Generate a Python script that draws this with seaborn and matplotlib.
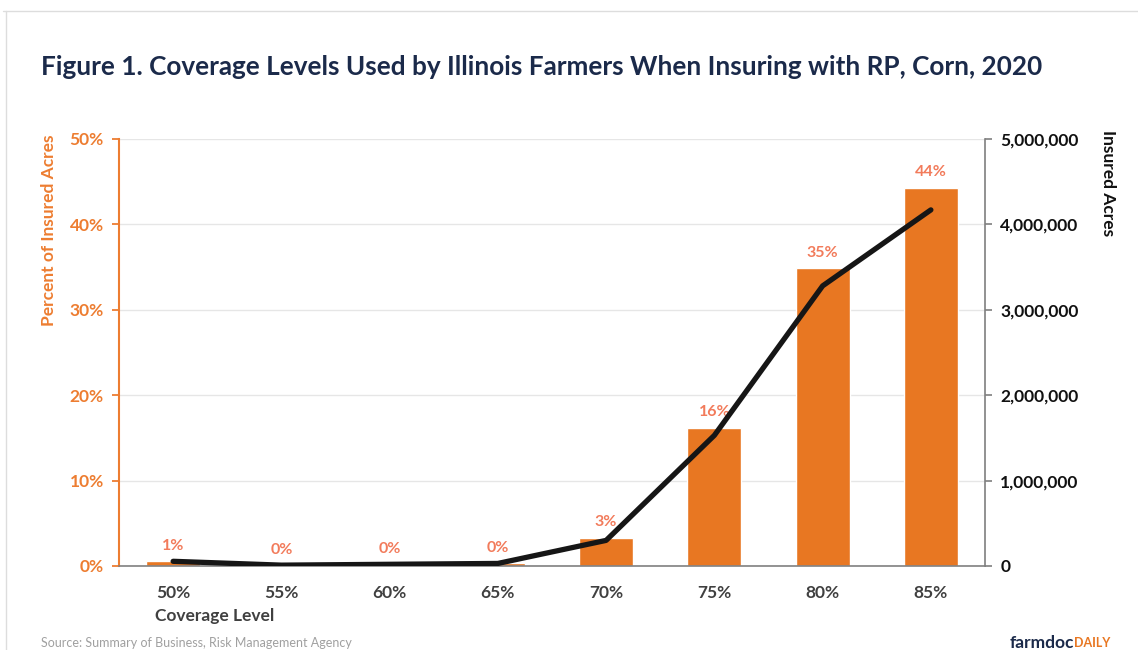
import matplotlib
matplotlib.use("Agg")
import matplotlib.pyplot as plt
import seaborn as sns
import numpy as np
import pandas as pd
from matplotlib.ticker import FuncFormatter, MultipleLocator
from matplotlib.lines import Line2D

# ---- data ----
coverage_levels = ["50%", "55%", "60%", "65%", "70%", "75%", "80%", "85%"]
percent_acres = [0.6, 0.05, 0.15, 0.3, 3.3, 16.2, 34.9, 44.3]
percent_labels = ["1%", "0%", "0%", "0%", "3%", "16%", "35%", "44%"]
insured_acres = [55000, 10000, 20000, 30000, 300000, 1530000, 3280000, 4170000]

title = "Figure 1. Coverage Levels Used by Illinois Farmers When Insuring with RP, Corn, 2020"
source = "Source: Summary of Business, Risk Management Agency"

BAR = "#E87722"
AXIS_ORANGE = "#ED7D31"
LABEL_SALMON = "#F27B5B"
NAVY = "#1B2A4A"
DARK = "#404040"

sns.set_theme(style="white")
plt.rcParams["font.family"] = ["Lato", "DejaVu Sans"]

df = pd.DataFrame({"level": coverage_levels, "pct": percent_acres, "acres": insured_acres})

fig = plt.figure(figsize=(11.38, 6.5), dpi=100)
ax = fig.add_axes([119/1138, 1-566/650, (985-119)/1138, (566-139)/650])

sns.barplot(data=df, x="level", y="pct", color=BAR, width=0.5, saturation=1, ax=ax)
ax.set_xlim(-0.5, len(coverage_levels)-0.5)
ax.set_ylim(0, 50)
ax.yaxis.set_major_locator(MultipleLocator(10))
ax.yaxis.set_major_formatter(FuncFormatter(lambda v, p: f"{int(v)}%"))
ax.grid(axis="y", color="#E6E6E6", linewidth=1)
ax.set_axisbelow(True)

ax.spines["top"].set_visible(False)
ax.spines["left"].set_color(AXIS_ORANGE)
ax.spines["left"].set_linewidth(1.5)
ax.spines["bottom"].set_color("#808080")
ax.spines["bottom"].set_linewidth(1.2)
ax.spines["right"].set_visible(False)

ax.tick_params(axis="y", colors=AXIS_ORANGE, length=5, width=1.3, direction="out", left=True, pad=6)
for t in ax.get_yticklabels():
    t.set_fontweight("bold"); t.set_fontsize(12.5); t.set_color(AXIS_ORANGE)
ax.tick_params(axis="x", length=0, pad=14)
for t in ax.get_xticklabels():
    t.set_fontweight("bold"); t.set_fontsize(12.5); t.set_color(DARK)

ax.set_xlabel("")
ax.set_ylabel("")
fig.text(49/1138, 1-230/650, "Percent of Insured Acres", rotation=90, ha="center", va="center",
         color=AXIS_ORANGE, fontsize=12.5, fontweight="bold")

# data labels
for i, (v, lab) in enumerate(zip(percent_acres, percent_labels)):
    ax.annotate(lab, (i, v), xytext=(0, 6), textcoords="offset points",
                ha="center", va="bottom", color=LABEL_SALMON, fontsize=11.5, fontweight="bold")

# second axis
ax2 = ax.twinx()
sns.lineplot(x=np.arange(len(coverage_levels)), y=insured_acres, color="#161616",
             linewidth=3.8, ax=ax2, solid_capstyle="round", solid_joinstyle="round")
ax2.set_ylim(0, 5000000)
ax2.yaxis.set_major_locator(MultipleLocator(1000000))
ax2.yaxis.set_major_formatter(FuncFormatter(lambda v, p: f"{int(v):,}"))
for sp in ["top", "left", "bottom"]:
    ax2.spines[sp].set_visible(False)
ax2.spines["right"].set_color("#7F7F7F")
ax2.spines["right"].set_linewidth(1.2)
ax2.tick_params(axis="y", colors="#7F7F7F", length=5, width=1.2, direction="out", right=True, pad=6)
for t in ax2.get_yticklabels():
    t.set_fontweight("bold"); t.set_fontsize(12.5); t.set_color("#111111")
ax2.set_ylabel("")
ax2.grid(False)

fig.text(1108/1138, 1-130/650, "Insured Acres", rotation=-90, ha="center", va="top",
         fontsize=12.5, fontweight="bold", color="#111111")

fig.text(155/1138, 1-616/650, "Coverage Level", ha="left", va="center",
         fontsize=12.5, fontweight="bold", color=DARK)

fig.text(41/1138, 1-67/650, title, ha="left", va="center", fontsize=18.8,
         fontweight="bold", color=NAVY)

fig.text(41/1138, 1-643/650, source, ha="left", va="center", fontsize=9, color="#A0A0A0")

t1 = fig.text(1010/1138, 1-643/650, "farmdoc", ha="left", va="center", fontsize=12.5,
              fontweight="bold", color=NAVY)
fig.canvas.draw()
bb = t1.get_window_extent()
fig.text(bb.x1/1138, 1-643/650, "DAILY", ha="left", va="center", fontsize=9,
         fontweight="bold", color=BAR)

# faint frame
fig.add_artist(Line2D([3/1138, 1], [1-11/650, 1-11/650], color="#DDDDDD", linewidth=1))
fig.add_artist(Line2D([6/1138, 6/1138], [0, 1-11/650], color="#DDDDDD", linewidth=1))

fig.savefig("out.png", dpi=100)
